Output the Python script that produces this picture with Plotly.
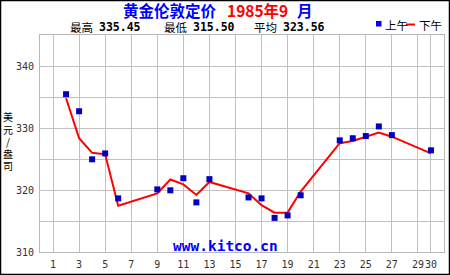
import plotly.graph_objects as go

# ---- data ----
days = [2, 3, 4, 5, 6, 9, 10, 11, 12, 13, 16, 17, 18, 19, 20, 23, 24, 25, 26, 27, 30]
am = [335.45, 332.70, 324.95, 325.90, 318.65, 320.10, 319.95, 321.90, 318.00, 321.75,
      318.80, 318.65, 315.50, 315.90, 319.15, 328.00, 328.35, 328.70, 330.25, 328.85, 326.40]
pm = [334.80, 328.35, 326.00, 325.75, 317.45, 319.45, 321.70, 320.90, 319.20, 321.30,
      319.45, 317.55, 316.35, 316.35, 319.75, 327.55, 327.90, 328.60, 329.25, 328.60, 325.90]
x_ticks = [1, 3, 5, 7, 9, 11, 13, 15, 17, 19, 21, 23, 25, 27, 29, 30]
y_ticks = [310, 315, 320, 325, 330, 335, 340]
y_ticktext = ["310", "", "320", "", "330", "", "340"]
title_parts = ["黄金伦敦定价", "1985年9", "月"]
stat_labels = ["最高", "最低", "平均"]
stat_values = ["335.45", "315.50", "323.56"]
legend_names = ["上午", "下午"]
ylabel_chars = ["美", "元", "/", "盎", "司"]

W, H = 450, 275
L, R, T, B = 40, 6, 35, 23
PW, PH = W - L - R, H - T - B


def px(xp):
    return (xp - L) / PW


def py(yp):
    return (H - B - yp) / PH


fig = go.Figure()
fig.add_trace(go.Scatter(x=days, y=pm, mode="lines", line=dict(color="#ff0000", width=2),
                         name=legend_names[1], showlegend=False, hoverinfo="skip"))
fig.add_trace(go.Scatter(x=days, y=am, mode="markers",
                         marker=dict(symbol="square", size=6, color="#0000c0", line=dict(width=0)),
                         name=legend_names[0], showlegend=False, hoverinfo="skip"))

tickfont = dict(family="DejaVu Sans Mono", size=10, color="#333333")
fig.update_xaxes(range=[0, 31], tickvals=x_ticks, ticktext=[str(v) for v in x_ticks],
                 tickangle=0,
                 showgrid=True, gridcolor="#c0c0c0", gridwidth=1, zeroline=False,
                 showline=True, linecolor="#b8b8b8", linewidth=1, mirror=True,
                 ticks="outside", ticklen=3, tickcolor="rgba(0,0,0,0)", tickfont=tickfont)
fig.update_yaxes(range=[310, 345], tickvals=y_ticks, ticktext=y_ticktext,
                 showgrid=True, gridcolor="#c0c0c0", gridwidth=1, zeroline=False,
                 showline=True, linecolor="#b8b8b8", linewidth=1, mirror=True,
                 ticks="outside", ticklen=3, tickcolor="rgba(0,0,0,0)", tickfont=tickfont)

ann = []
# title pieces placed separately so the gaps match the reference
title_font = dict(family="Noto Sans CJK SC", size=15.5, weight="bold")
for xp, txt, col in zip([121, 225, 295], title_parts, ["#0000ff", "#ff0000", "#0000ff"]):
    ann.append(dict(xref="paper", yref="paper", x=px(xp), y=py(10), xanchor="left", yanchor="middle",
                    showarrow=False, text=txt, font=dict(title_font, color=col)))
for xl, xv, lab, val in zip([68, 162, 252], [97, 191, 281], stat_labels, stat_values):
    ann.append(dict(xref="paper", yref="paper", x=px(xl), y=py(26.5), xanchor="left", yanchor="middle",
                    showarrow=False, text=lab,
                    font=dict(family="Noto Sans CJK SC", size=11.5, color="#000000")))
    ann.append(dict(xref="paper", yref="paper", x=px(xv), y=py(27), xanchor="left", yanchor="middle",
                    showarrow=False, text=val,
                    font=dict(family="DejaVu Sans Mono", size=11.5, color="#000000", weight="bold")))
for xp, s in zip([383, 417], legend_names):
    ann.append(dict(xref="paper", yref="paper", x=px(xp), y=py(25.5), xanchor="left", yanchor="middle",
                    showarrow=False, text=s,
                    font=dict(family="Noto Sans CJK SC", size=11.5, color="#000000")))
for yp, c in zip([116.5, 129, 141, 153, 165.5], ylabel_chars):
    ann.append(dict(xref="paper", yref="paper", x=px(8), y=py(yp), xanchor="center", yanchor="middle",
                    showarrow=False, text=c,
                    font=dict(family="Noto Sans CJK SC", size=10, color="#000000")))
ann.append(dict(xref="paper", yref="paper", x=px(225.5), y=py(246), xanchor="center", yanchor="middle",
                showarrow=False, text="<b>www.kitco.cn</b>",
                font=dict(family="DejaVu Sans Mono", size=14.5, color="#0000ff")))

shapes = [
    dict(type="rect", xref="paper", yref="paper", x0=px(0.5), x1=px(449.5), y0=py(274.5), y1=py(0.5),
         line=dict(color="#000000", width=1.5), fillcolor="rgba(0,0,0,0)", layer="above"),
    dict(type="rect", xref="paper", yref="paper", x0=px(376), x1=px(381.5), y0=py(26.5), y1=py(21),
         line=dict(width=0), fillcolor="#0000ff"),
    dict(type="line", xref="paper", yref="paper", x0=px(406), x1=px(415), y0=py(24.5), y1=py(24.5),
         line=dict(color="#ff0000", width=2)),
]

fig.update_layout(width=W, height=H, margin=dict(l=L, r=R, t=T, b=B, autoexpand=False),
                  paper_bgcolor="#ffffff", plot_bgcolor="#ffffff",
                  annotations=ann, shapes=shapes, showlegend=False)
fig.write_html("out.html")
